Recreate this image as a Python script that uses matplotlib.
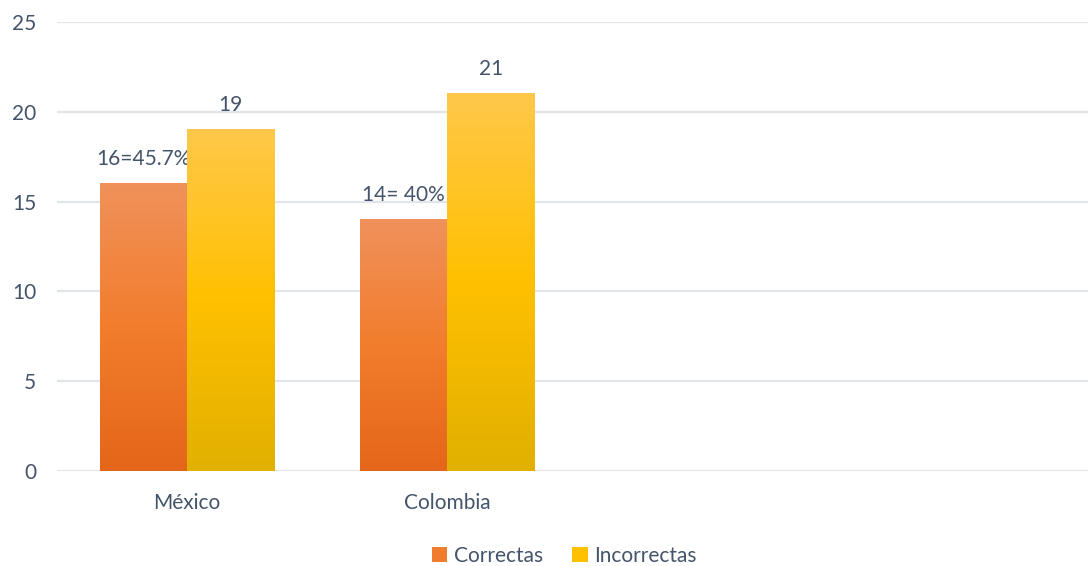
import numpy as np
import matplotlib.pyplot as plt
from matplotlib.colors import LinearSegmentedColormap
from matplotlib.patches import Patch

plt.rcParams['font.family'] = ['Lato', 'DejaVu Sans']

categories = ['México', 'Colombia', '', '']
correctas = [16, 14]
incorrectas = [19, 21]
labels_correctas = ['16=45.7%', '14= 40%']
labels_incorrectas = ['19', '21']
yticks = [0, 5, 10, 15, 20, 25]

text_color = '#44546A'
orange_cmap = LinearSegmentedColormap.from_list('orange', ['#E4661A', '#F27D2C', '#F0915B'])
yellow_cmap = LinearSegmentedColormap.from_list('yellow', ['#E1B000', '#FFC000', '#FFC84A'])

fig = plt.figure(figsize=(10.88, 5.66), dpi=100)
ax = fig.add_axes([57 / 1088, 1 - 471 / 566, (1098 - 57) / 1088, (471 - 22) / 566])

x = np.arange(len(categories))
w = 0.335
grad = np.linspace(0, 1, 256).reshape(-1, 1)


def gradient_bars(xpos, values, cmap, labels):
    bars = ax.bar(xpos, values, w, color='none', edgecolor='none', zorder=3)
    for b, lab in zip(bars, labels):
        x0, y0 = b.get_x(), b.get_y()
        x1, y1 = x0 + b.get_width(), y0 + b.get_height()
        ax.imshow(grad, cmap=cmap, origin='lower', aspect='auto',
                  extent=[x0, x1, y0, y1], zorder=3, interpolation='bicubic')
        ax.text((x0 + x1) / 2, y1 + 0.8, lab, ha='center', va='bottom',
                fontsize=15, color=text_color)
    return bars


gradient_bars(x[:2] - w / 2, correctas, orange_cmap, labels_correctas)
gradient_bars(x[:2] + w / 2, incorrectas, yellow_cmap, labels_incorrectas)

ax.set_xlim(-0.5, len(categories) - 0.5)
ax.set_ylim(0, 25)
ax.set_yticks(yticks)
ax.set_xticks(x)
ax.set_xticklabels(categories)
ax.yaxis.grid(True, color='#E1E4E9', linewidth=1.6, zorder=0)
ax.set_axisbelow(True)
for s in ax.spines.values():
    s.set_visible(False)
ax.tick_params(length=0, labelsize=15, labelcolor=text_color)
ax.tick_params(axis='y', pad=15)
ax.tick_params(axis='x', pad=16)

handles = [Patch(facecolor='#F07D2E', label='Correctas'),
           Patch(facecolor='#FFC000', label='Incorrectas')]
fig.legend(handles=handles, loc='center', bbox_to_anchor=(564 / 1088, 1 - 556 / 566),
           ncol=2, frameon=False, fontsize=15, labelcolor=text_color,
           handlelength=0.75, handleheight=0.75, handletextpad=0.3, columnspacing=1.4)

fig.savefig('out.png', dpi=100)
